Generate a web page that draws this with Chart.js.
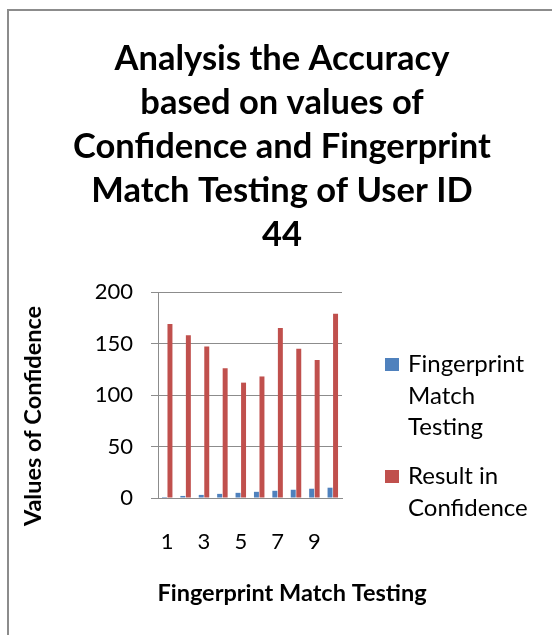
<!DOCTYPE html>
<html>
<head>
<meta charset="utf-8">
<script src="https://cdn.jsdelivr.net/npm/chart.js@4.4.1/dist/chart.umd.min.js"></script>
<style>
  html, body { margin: 0; padding: 0; background: #fff; overflow: hidden; width: 552px; height: 635px; }
  #frame { position: absolute; left: 7px; top: 9px; width: 560px; height: 640px; border-left: 2px solid #8c8c8c; border-top: 2px solid #8c8c8c; }
  #wrap { position: absolute; left: 9px; top: 11px; width: 543px; height: 624px; }
</style>
</head>
<body>
<div id="frame"></div>
<div id="wrap"><canvas id="c" width="543" height="624"></canvas></div>
<script>
const categories = ['1','2','3','4','5','6','7','8','9','10'];
const xTickLabels = ['1','','3','','5','','7','','9',''];
const fingerprintMatchTesting = [1, 2, 3, 4, 5, 6, 7, 8, 9, 10];
const resultInConfidence = [169, 158, 147, 126, 112, 118, 165, 145, 134, 179];
const seriesNames = [['Fingerprint', 'Match', 'Testing'], ['Result in', 'Confidence']];
const titleLines = ['Analysis the Accuracy', 'based on values of', 'Confidence and Fingerprint', 'Match Testing of User ID', '44'];
const yAxisTitle = 'Values of Confidence';
const xAxisTitle = 'Fingerprint Match Testing';

const FONT = 'Lato, "Open Sans", sans-serif';

const customPlugin = {
  id: 'custom',
  afterDraw(chart) {
    const ctx = chart.ctx;
    const ca = chart.chartArea;
    ctx.save();
    // title
    ctx.fillStyle = '#000';
    ctx.font = 'bold 34.5px ' + FONT;
    ctx.textAlign = 'center';
    ctx.textBaseline = 'alphabetic';
    titleLines.forEach((line, i) => {
      ctx.fillText(line, 273, 58.5 + i * 44);
    });
    // legend
    const ds = chart.data.datasets;
    const boxX = ca.right + 43;
    const tops = [347, 459];
    ds.forEach((d, i) => {
      const top = tops[i];
      ctx.fillStyle = d.backgroundColor;
      ctx.fillRect(boxX, top, 14, 13);
      ctx.fillStyle = '#000';
      ctx.font = '24px ' + FONT;
      ctx.textAlign = 'left';
      ctx.textBaseline = 'alphabetic';
      seriesNames[i].forEach((line, j) => {
        ctx.fillText(line, boxX + 23, top + 14 + j * 31.7);
      });
    });
    // axis titles
    ctx.font = 'bold 23.5px ' + FONT;
    ctx.fillStyle = '#000';
    ctx.textAlign = 'center';
    ctx.textBaseline = 'middle';
    ctx.fillText(xAxisTitle, 283, 582);
    ctx.translate(24, 405);
    ctx.rotate(-Math.PI / 2);
    ctx.fillText(yAxisTitle, 0, 0);
    ctx.restore();
  }
};

new Chart(document.getElementById('c'), {
  type: 'bar',
  data: {
    labels: categories,
    datasets: [
      { label: 'Fingerprint Match Testing', data: fingerprintMatchTesting, backgroundColor: '#4F81BD', categoryPercentage: 0.6, barPercentage: 0.9 },
      { label: 'Result in Confidence', data: resultInConfidence, backgroundColor: '#C0504D', categoryPercentage: 0.6, barPercentage: 0.9 }
    ]
  },
  options: {
    responsive: false,
    animation: false,
    events: [],
    layout: { padding: { left: 0, right: 210, top: 281, bottom: 0 } },
    plugins: {
      legend: { display: false },
      tooltip: { enabled: false },
      title: { display: false }
    },
    scales: {
      x: {
        grid: { display: false, drawTicks: false },
        border: { display: true, color: '#8c8c8c', width: 1 },
        ticks: {
          autoSkip: false, maxRotation: 0, color: '#000', padding: 31,
          font: { family: FONT, size: 22 },
          callback: (v, i) => xTickLabels[i]
        },
        afterFit: (s) => { s.height = 137; }
      },
      y: {
        min: 0, max: 200,
        ticks: { stepSize: 50, color: '#000', padding: 18, font: { family: FONT, size: 22 } },
        grid: { color: '#8c8c8c', tickLength: 7, drawTicks: true },
        border: { display: true, color: '#8c8c8c', width: 1 },
        afterFit: (s) => { s.width = 149; }
      }
    }
  },
  plugins: [customPlugin]
});
</script>
</body>
</html>
